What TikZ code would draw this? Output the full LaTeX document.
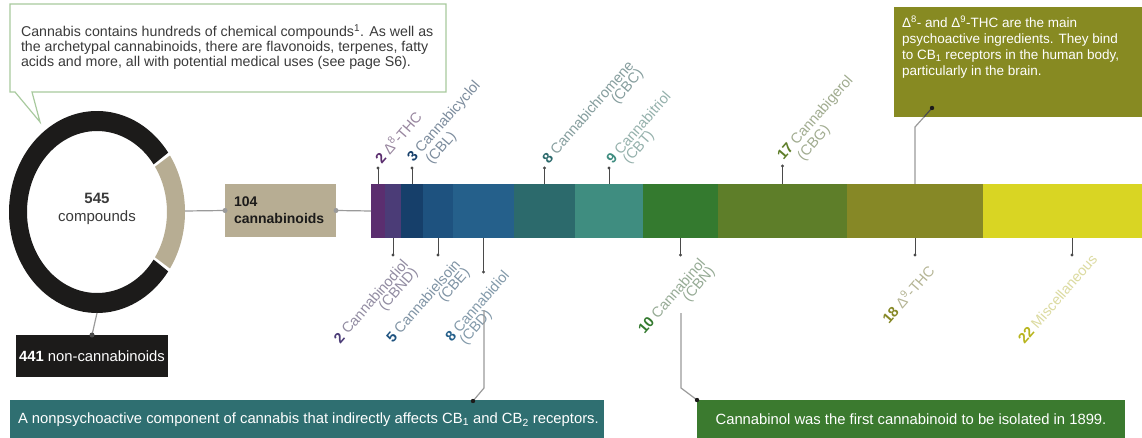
\documentclass[tikz,border=0pt]{standalone}
\usepackage{fontspec}
\setmainfont{Liberation Sans}
\usetikzlibrary{calc}
\definecolor{ringblack}{HTML}{1C1B1A}
\definecolor{tanc}{HTML}{B7AD93}
\definecolor{callgreen}{HTML}{A8CA9E}
\definecolor{txtgray}{HTML}{3A3A3A}
\definecolor{conngray}{HTML}{9A9A9A}
\definecolor{tickgray}{HTML}{4A4A4A}
\definecolor{sA}{HTML}{5B2E6F}
\definecolor{sB}{HTML}{4B3C77}
\definecolor{sC}{HTML}{163F6A}
\definecolor{sD}{HTML}{1E527F}
\definecolor{sE}{HTML}{25608B}
\definecolor{sF}{HTML}{2C6A6C}
\definecolor{sG}{HTML}{3F8D80}
\definecolor{sH}{HTML}{347A2F}
\definecolor{sI}{HTML}{5E7E29}
\definecolor{sJ}{HTML}{868826}
\definecolor{sK}{HTML}{D9D523}
\definecolor{olivebox}{HTML}{878A22}
\definecolor{tealbox}{HTML}{2F6F71}
\definecolor{greenbox}{HTML}{3B7A2F}
\begin{document}
\begin{tikzpicture}[x=1pt,y=-1pt,
  every node/.style={inner sep=0pt, outer sep=0pt},
  seg/.style={anchor=north west, minimum height=54pt},
  lab/.style={font=\fontsize{14.5}{16}\selectfont, rotate=49, inner sep=0.8pt},
  tick/.style={draw=tickgray, line width=0.8pt},
  tipdot/.style={circle, fill=tickgray, minimum size=3.2pt},
  conn/.style={draw=conngray, line width=1.2pt},
  infobox/.style={text=white, font=\fontsize{14.8}{17}\selectfont}
]
\useasboundingbox (0,0) rectangle (1142,438);
\fill[white] (0,0) rectangle (1142,438);

% ---------- callout ----------
\draw[callgreen, line width=1.2pt, fill=white]
  (10,4) -- (446,4) -- (446,92) -- (32,92) -- (40,122) -- (15,92) -- (10,92) -- cycle;
\node[anchor=west, align=left, text=txtgray,
  font=\fontsize{14.2}{15.2}\selectfont] (callout) at (21,47)
  {Cannabis contains hundreds of chemical compounds\textsuperscript{1}. As well as\\
   the archetypal cannabinoids, there are flavonoids, terpenes, fatty\\
   acids and more, all with potential medical uses (see page S6).};

% ---------- donut ----------
\begin{scope}[shift={(97,212)}]
  \fill[ringblack] (36:88pt and 101pt) arc[start angle=36, end angle=324, x radius=88pt, y radius=101pt]
     -- (324:70pt and 81pt) arc[start angle=324, end angle=36, x radius=70pt, y radius=81pt] -- cycle;
  \fill[tanc] (-34:88pt and 101pt) arc[start angle=-34, end angle=34, x radius=88pt, y radius=101pt]
     -- (34:70pt and 81pt) arc[start angle=34, end angle=-34, x radius=70pt, y radius=81pt] -- cycle;
\end{scope}
\node[align=center, text=txtgray, font=\fontsize{15}{17.5}\selectfont] (donut) at (97,209)
  {\textbf{545}\\compounds};
\coordinate (donutR) at (185,211);
\coordinate (donutB) at (97,313);

% ---------- boxes ----------
\node[fill=tanc, anchor=north west, minimum width=111pt, minimum height=53pt] (cann) at (225,184) {};
\node[anchor=west, align=left, text=ringblack, font=\fontsize{14}{17}\selectfont\bfseries] at (234,210)
  {104\\cannabinoids};
\node[fill=ringblack, anchor=north west, minimum width=152pt, minimum height=42pt,
  text=white, font=\fontsize{14.8}{17}\selectfont] (non) at (16,335)
  {\textbf{441} non-cannabinoids};

\draw[conn] (donutR) -- (cann.west);
\fill[conngray] (cann.west) circle (2.5pt);
\draw[conn] (donutB) -- (non.north);
\fill[tickgray] (non.north) circle (2.5pt);

% ---------- bar ----------
\node[seg, fill=sA, minimum width=14pt] (s1) at (371,184) {};
\node[seg, fill=sB, minimum width=16pt] (s2) at (385,184) {};
\node[seg, fill=sC, minimum width=22pt] (s3) at (401,184) {};
\node[seg, fill=sD, minimum width=30pt] (s4) at (423,184) {};
\node[seg, fill=sE, minimum width=61pt] (s5) at (453,184) {};
\node[seg, fill=sF, minimum width=61pt] (s6) at (514,184) {};
\node[seg, fill=sG, minimum width=68pt] (s7) at (575,184) {};
\node[seg, fill=sH, minimum width=75pt] (s8) at (643,184) {};
\node[seg, fill=sI, minimum width=129pt] (s9) at (718,184) {};
\node[seg, fill=sJ, minimum width=136pt] (s10) at (847,184) {};
\node[seg, fill=sK, minimum width=159pt] (s11) at (983,184) {};

\draw[conn] (cann.east) -- (s1.west);
\fill[conngray] (cann.east) circle (2.5pt);

% ---------- ticks above ----------
\draw[tick] (s1.north) -- ++(0,-16) node[tipdot]{};
\draw[tick] (s3.north) -- ++(0,-16) node[tipdot]{};
\draw[tick] (s6.north) -- ++(0,-16) node[tipdot]{};
\draw[tick] (s7.north) -- ++(0,-16) node[tipdot]{};
\draw[tick] (s9.north) -- ++(0,-18) node[tipdot]{};
% ---------- ticks below ----------
\draw[tick] (s2.south) -- ++(0,17) node[tipdot]{};
\draw[tick] (s4.south) -- ++(0,17) node[tipdot]{};
\draw[tick] (s5.south) -- ++(0,34) node[tipdot]{};
\draw[tick] (s8.south) -- ++(0,17) node[tipdot]{};
\draw[tick] (s10.south) -- ++(0,17) node[tipdot]{};
\coordinate (miscT) at (1072,238);
\draw[tick] (miscT) -- ++(0,17) node[tipdot]{};

% ---------- labels above ----------
\node[lab, anchor=south west, text=sA!55!gray!70!white] (la1) at (382,166)
  {\textcolor{sA}{\textbf{2}} Δ\textsuperscript{8}-THC};
\node[lab, anchor=south west, text=sC!55!gray!70!white] (la3) at (416,166)
  {\textcolor{sC}{\textbf{3}} Cannabicyclol};
\node[lab, anchor=north west, text=sC!55!gray!70!white] at ($(la3.south west)!0.1!(la3.south east)$) {(CBL)};
\node[lab, anchor=south west, text=sF!55!gray!70!white] (la6) at (549,166)
  {\textcolor{sF}{\textbf{8}} Cannabichromene};
\node[lab, anchor=north east, text=sF!55!gray!70!white] at (la6.south east) {(CBC)};
\node[lab, anchor=south west, text=sG!55!gray!65!white] (la7) at (613,166)
  {\textcolor{sG}{\textbf{9}} Cannabitriol};
\node[lab, anchor=north west, text=sG!55!gray!65!white] at ($(la7.south west)!0.12!(la7.south east)$) {(CBT)};
\node[lab, anchor=south west, text=sI!50!gray!65!white] (la9) at (786,164)
  {\textcolor{sI}{\textbf{17}} Cannabigerol};
\node[lab, anchor=north west, text=sI!50!gray!65!white] at ($(la9.south west)!0.12!(la9.south east)$) {(CBG)};

% ---------- labels below ----------
\node[lab, anchor=north east, text=sB!55!gray!70!white] (lb2) at (401,257)
  {\textcolor{sB}{\textbf{2}} Cannabinodiol};
\node[lab, anchor=north east, text=sB!55!gray!70!white] at (lb2.south east) {(CBND)};
\node[lab, anchor=north east, text=sD!55!gray!70!white] (lb4) at (453,257)
  {\textcolor{sD}{\textbf{5}} Cannabielsoin};
\node[lab, anchor=north east, text=sD!55!gray!70!white] at (lb4.south east) {(CBE)};
\node[lab, anchor=north east, text=sE!55!gray!70!white] (lb5) at (502,268)
  {\textcolor{sE}{\textbf{8}} Cannabidiol};
\node[lab, anchor=north west, text=sE!55!gray!70!white] at ($(lb5.south west)!0.08!(lb5.south east)$) {(CBD)};
\node[lab, anchor=north east, text=sH!45!gray!65!white] (lb8) at (698,256)
  {\textcolor{sH}{\textbf{10}} Cannabinol};
\node[lab, anchor=north east, text=sH!45!gray!65!white] at (lb8.south east) {(CBN)};
\node[lab, anchor=north east, text=sJ!55!gray!60!white] (lb10) at (926,262)
  {\textcolor{sJ}{\textbf{18}} Δ\textsuperscript{9}-THC};
\node[lab, anchor=north east, text=sK!65!gray!50!white] (lb11) at (1090,252)
  {\textcolor{sK!85!black}{\textbf{22}} Miscellaneous};

% ---------- info boxes ----------
\node[fill=olivebox, anchor=north west, minimum width=248pt, minimum height=110pt] (thc) at (894,7) {};
\node[infobox, anchor=north west, align=left, font=\fontsize{13.5}{15.8}\selectfont] at (902,16)
  {Δ\textsuperscript{8}- and Δ\textsuperscript{9}-THC are the main\\
   psychoactive ingredients. They bind\\
   to CB\textsubscript{1} receptors in the human body,\\
   particularly in the brain.};
\node[fill=tealbox, anchor=north west, minimum width=594pt, minimum height=38pt] (cbd) at (10,400) {};
\node[infobox, anchor=west] at (18,420)
  {A nonpsychoactive component of cannabis that indirectly affects CB\textsubscript{1} and CB\textsubscript{2} receptors.};
\node[fill=greenbox, anchor=north west, minimum width=428pt, minimum height=38pt, infobox] (cbn) at (697,400)
  {Cannabinol was the first cannabinoid to be isolated in 1899.};

% ---------- long connectors ----------
\coordinate (thcA) at ($(s10.north)+(0,-57)$);
\coordinate (thcB) at ($(s10.north)+(9,-67)$);
\coordinate (thcC) at ($(s10.north)+(17,-76)$);
\draw[conn] (s10.north) -- (thcA) -- (thcB);
\draw[tickgray, line width=1.2pt] (thcB) -- (thcC);
\fill[ringblack] (thcC) circle (2.2pt);

\coordinate (cbdA) at (484,310);
\coordinate (cbdB) at (484,388);
\coordinate (cbdC) at (473,401);
\draw[conn] (cbdA) -- (cbdB) -- (cbdC);
\fill[ringblack] (cbdC) circle (2.2pt);

\coordinate (cbnA) at (681,313);
\coordinate (cbnB) at (681,388);
\draw[conn] (cbnA) -- (cbnB) -- (cbn.north west);
\fill[ringblack] (cbn.north west) circle (2.2pt);
\end{tikzpicture}
\end{document}
